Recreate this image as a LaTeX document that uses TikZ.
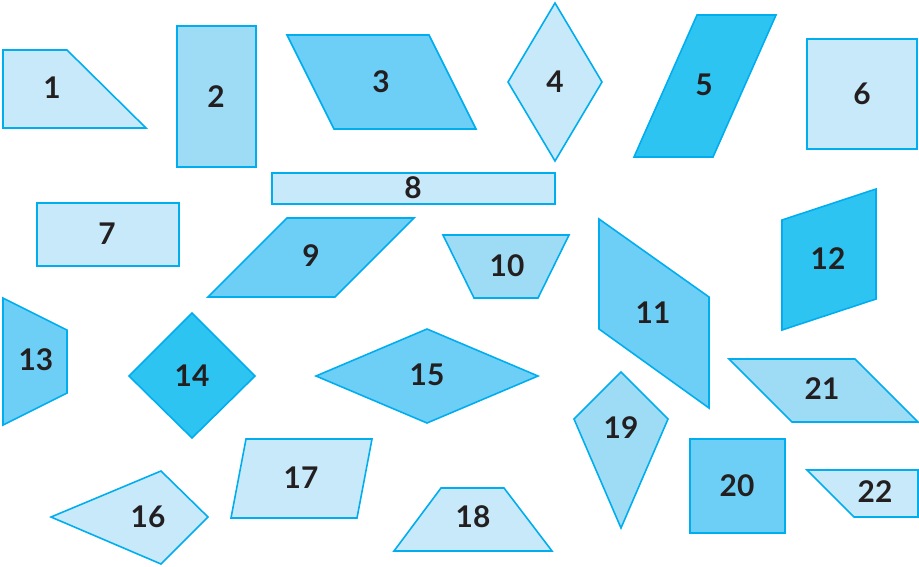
\documentclass[tikz,border=0pt]{standalone}
\usepackage{fontspec}
\setmainfont{Lato}
\usepackage{xcolor}
\usepackage{tikz}

\definecolor{edgeblue}{RGB}{0,174,239}
\definecolor{paleblue}{RGB}{199,233,249}
\definecolor{softblue}{RGB}{158,220,246}
\definecolor{midblue}{RGB}{109,207,245}
\definecolor{deepblue}{RGB}{46,196,242}
\definecolor{numink}{RGB}{35,31,32}

\tikzset{
  pale/.style={draw=edgeblue, fill=paleblue, line width=0.9pt},
  soft/.style={draw=edgeblue, fill=softblue, line width=0.9pt},
  mid/.style={draw=edgeblue, fill=midblue, line width=0.9pt},
  deep/.style={draw=edgeblue, fill=deepblue, line width=0.9pt},
  num/.style={text=numink, font=\fontsize{17}{19}\selectfont\bfseries, inner sep=0pt}
}

\begin{document}
\begin{tikzpicture}[x=0.02cm, y=-0.02cm]
            \useasboundingbox (0,0) rectangle (919,566);

            \draw[pale] (3,50) -- (67,50) -- (146,128) -- (3,128) -- cycle; % 1
            \node[num] (s1) at (52,88) {1};
            \draw[soft] (177,26) rectangle (256,167); % 2
            \node[num] (s2) at (216,97) {2};
            \draw[mid] (287,35) -- (429,35) -- (476,129) -- (334,129) -- cycle; % 3
            \node[num] (s3) at (381,82) {3};
            \draw[pale] (555,3) -- (602,82) -- (555,161) -- (508,82) -- cycle; % 4
            \node[num] (s4) at (555,82) {4};
            \draw[deep] (697,15) -- (776,15) -- (713,157) -- (634,157) -- cycle; % 5
            \node[num] (s5) at (704,85) {5};
            \draw[pale] (807,39) rectangle (917,149); % 6
            \node[num] (s6) at (862,94) {6};

            \draw[pale] (37,203) rectangle (179,266); % 7
            \node[num] (s7) at (107,234) {7};
            \draw[pale] (272,173) rectangle (555,204); % 8
            \node[num] (s8) at (413,188) {8};
            \draw[mid] (287,218) -- (414,218) -- (335,297) -- (208,297) -- cycle; % 9
            \node[num] (s9) at (311,256) {9};
            \draw[soft] (443,235) -- (569,235) -- (538,298) -- (474,298) -- cycle; % 10
            \node[num] (s10) at (507,266) {10};
            \draw[mid] (599,219) -- (709,297) -- (709,408) -- (599,329) -- cycle; % 11
            \node[num] (s11) at (653,313) {11};
            \draw[deep] (782,220) -- (876,189) -- (876,299) -- (782,330) -- cycle; % 12
            \node[num] (s12) at (828,259) {12};

            \draw[mid] (3,298) -- (67,330) -- (67,393) -- (3,425) -- cycle; % 13
            \node[num] (s13) at (36,360) {13};
            \draw[deep] (192,313) -- (255,376) -- (192,438) -- (129,376) -- cycle; % 14
            \node[num] (s14) at (192,376) {14};
            \draw[mid] (427,329) -- (538,376) -- (427,423) -- (316,376) -- cycle; % 15
            \node[num] (s15) at (427,375) {15};
            \draw[soft] (729,359) -- (855,359) -- (918,422) -- (792,422) -- cycle; % 21
            \node[num] (s21) at (822,389) {21};

            \draw[pale] (51,517) -- (161,471) -- (208,517) -- (161,564) -- cycle; % 16
            \node[num] (s16) at (148,517) {16};
            \draw[pale] (246,439) -- (372,439) -- (357,518) -- (231,518) -- cycle; % 17
            \node[num] (s17) at (301,478) {17};
            \draw[pale] (441,488) -- (504,488) -- (552,551) -- (394,551) -- cycle; % 18
            \node[num] (s18) at (473,517) {18};
            \draw[soft] (621,372) -- (668,419) -- (621,528) -- (574,419) -- cycle; % 19
            \node[num] (s19) at (621,428) {19};
            \draw[mid] (690,439) rectangle (785,533); % 20
            \node[num] (s20) at (737,486) {20};
            \draw[pale] (807,470) -- (918,470) -- (918,517) -- (854,517) -- cycle; % 22
            \node[num] (s22) at (875,492) {22};
        \end{tikzpicture}
\end{document}
